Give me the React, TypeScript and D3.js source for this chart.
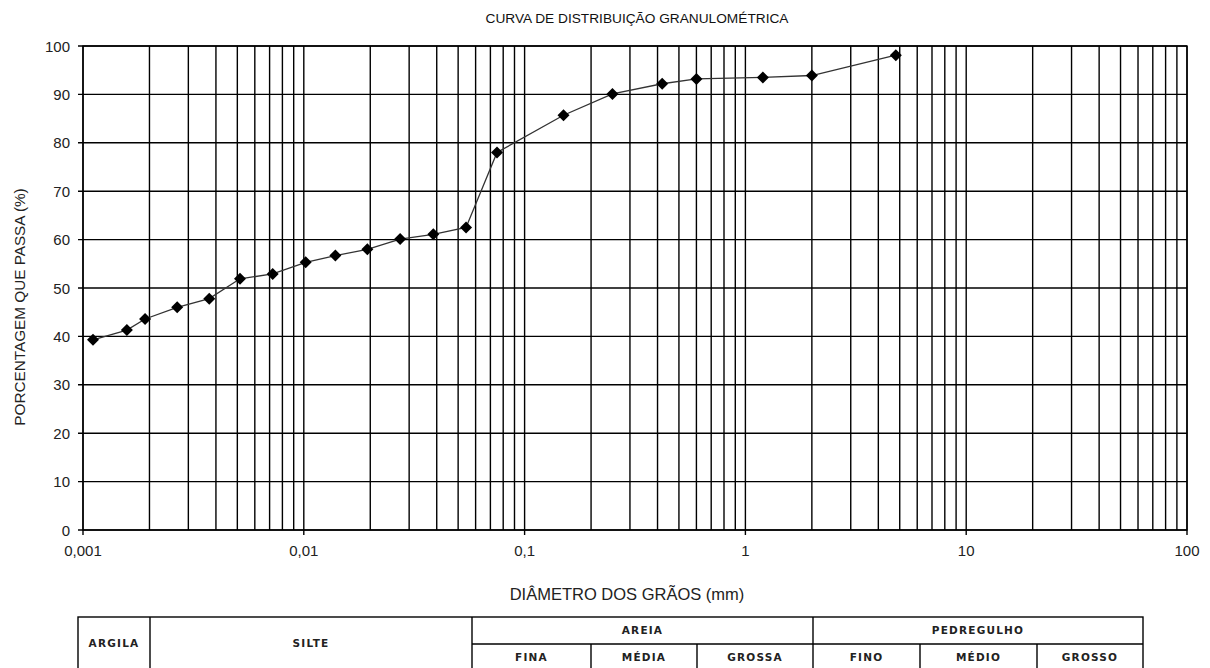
import React from 'react';
import * as d3 from 'd3';

// sieve / sedimentation data
const diameters = [
  0.00111, 0.00158, 0.00191, 0.00267, 0.00373, 0.00514, 0.00723, 0.0102, 0.0139,
  0.0194, 0.0273, 0.0386, 0.0543, 0.075, 0.15, 0.25, 0.42, 0.6, 1.2, 2.0, 4.8,
];
const passing = [
  39.3, 41.3, 43.6, 46.0, 47.8, 51.9, 52.9, 55.3, 56.7, 58.0, 60.1, 61.1, 62.5,
  78.0, 85.7, 90.1, 92.2, 93.2, 93.5, 93.9, 98.1,
];

const xTickLabels = ['0,001', '0,01', '0,1', '1', '10', '100'];
const yTicks = [0, 10, 20, 30, 40, 50, 60, 70, 80, 90, 100];

const topRow = ['ARGILA', 'SILTE', 'AREIA', 'PEDREGULHO'];
const subRow = ['FINA', 'MÉDIA', 'GROSSA', 'FINO', 'MÉDIO', 'GROSSO'];

const W = 1210;
const H = 668;
const plot = { left: 83, right: 1187, top: 46, bottom: 530 };

const diamond = {
  draw(ctx: any, size: number) {
    const r = Math.sqrt(size) / 2;
    ctx.moveTo(0, -r);
    ctx.lineTo(r, 0);
    ctx.lineTo(0, r);
    ctx.lineTo(-r, 0);
    ctx.closePath();
  },
};

export default function App() {
  const x = d3.scaleLog().domain([0.001, 100]).range([plot.left, plot.right]);
  const y = d3.scaleLinear().domain([0, 100]).range([plot.bottom, plot.top]);

  const grid = x.ticks();
  const decades = [0.001, 0.01, 0.1, 1, 10, 100];

  const pts = diameters.map((d, i) => [d, passing[i]] as [number, number]);
  const line = d3.line<[number, number]>().x(d => x(d[0])).y(d => y(d[1]));
  const marker = d3.symbol(diamond as any, 144)();

  // table layout
  const tTop = 617, tMid = 644, tBot = 672;
  const cols = [78, 150, 472, 813, 1143];
  const subCols = [472, 591, 697, 813, 920, 1037, 1143];
  const tblFont = { fontFamily: 'DejaVu Sans, sans-serif', fontWeight: 700, fontSize: 10.5, letterSpacing: 1.2 };

  return (
    <svg width={W} height={H} style={{ position: 'absolute', left: 0, top: 0, background: '#fff' }}
      fontFamily="Liberation Sans, Arial, sans-serif">
      <text x={637} y={23} textAnchor="middle" fontSize={13.7} fill="#111">
        CURVA DE DISTRIBUIÇÃO GRANULOMÉTRICA
      </text>

      <g stroke="#000" strokeWidth={1.4}>
        {grid.map((t, i) => (
          <line key={'v' + i} x1={x(t)} x2={x(t)} y1={plot.top} y2={plot.bottom} />
        ))}
        {yTicks.map(t => (
          <line key={'h' + t} x1={plot.left - 5} x2={plot.right} y1={y(t)} y2={y(t)} />
        ))}
        {decades.map(t => (
          <line key={'xt' + t} x1={x(t)} x2={x(t)} y1={plot.bottom} y2={plot.bottom + 5} />
        ))}
        <rect x={plot.left} y={plot.top} width={plot.right - plot.left} height={plot.bottom - plot.top} fill="none" />
      </g>

      <g fontSize={15} fill="#222">
        {yTicks.map(t => (
          <text key={'yl' + t} x={plot.left - 13} y={y(t) + 5.5} textAnchor="end">{t}</text>
        ))}
        {decades.map((t, i) => (
          <text key={'xl' + t} x={x(t)} y={plot.bottom + 26} textAnchor="middle">{xTickLabels[i]}</text>
        ))}
      </g>

      <text transform="translate(25,307) rotate(-90)" textAnchor="middle"
        fontSize={15.3} fill="#222">PORCENTAGEM QUE PASSA (%)</text>
      <text x={627} y={600} textAnchor="middle" fontSize={16.5} fill="#222">DIÂMETRO DOS GRÃOS (mm)</text>

      <path d={line(pts) || ''} fill="none" stroke="#333" strokeWidth={1.3} />
      {pts.map((d, i) => (
        <path key={'m' + i} d={marker || ''} transform={`translate(${x(d[0])},${y(d[1])})`} fill="#000" />
      ))}

      <g stroke="#000" strokeWidth={1.4} fill="none">
        <rect x={cols[0]} y={tTop} width={cols[4] - cols[0]} height={tBot - tTop} />
        {cols.slice(1, 4).map(c => <line key={'c' + c} x1={c} x2={c} y1={tTop} y2={tBot} />)}
        <line x1={cols[2]} x2={cols[4]} y1={tMid} y2={tMid} />
        {subCols.slice(1, 6).filter(c => c !== 813).map(c => (
          <line key={'s' + c} x1={c} x2={c} y1={tMid} y2={tBot} />
        ))}
      </g>
      <g {...tblFont} fill="#222" textAnchor="middle">
        <text x={(cols[0] + cols[1]) / 2} y={647}>{topRow[0]}</text>
        <text x={(cols[1] + cols[2]) / 2} y={647}>{topRow[1]}</text>
        <text x={(cols[2] + cols[3]) / 2} y={634}>{topRow[2]}</text>
        <text x={(cols[3] + cols[4]) / 2} y={634}>{topRow[3]}</text>
        {subRow.map((s, i) => (
          <text key={s} x={(subCols[i] + subCols[i + 1]) / 2} y={661}>{s}</text>
        ))}
      </g>
    </svg>
  );
}
